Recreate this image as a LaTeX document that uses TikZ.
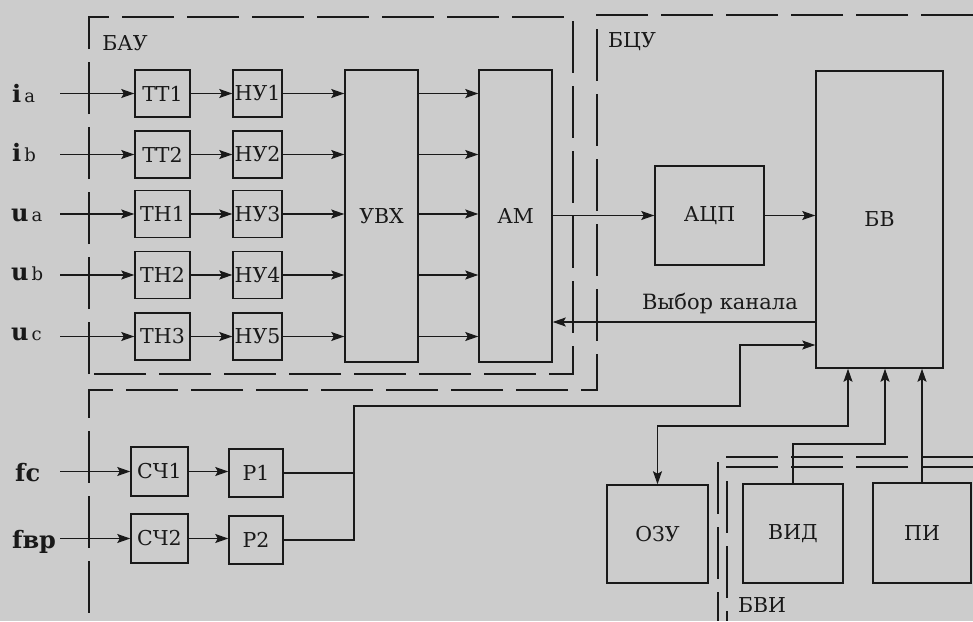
\documentclass[tikz,border=0pt]{standalone}
\usepackage{fontspec}
\setmainfont{DejaVu Serif}
\usetikzlibrary{arrows.meta}
\definecolor{bgc}{RGB}{204,204,204}
\definecolor{ink}{RGB}{25,25,25}
\tikzset{
  blk/.style={draw=ink, line width=1.5pt, inner sep=0pt, font=\fontsize{20.5}{24}\selectfont, text=ink},
  arr/.style={draw=ink, line width=1.2pt, -{Stealth[length=13pt,width=9pt,inset=2.5pt]}},
  arrb/.style={draw=ink, line width=1.2pt, {Stealth[length=13pt,width=9pt,inset=2.5pt]}-{Stealth[length=13pt,width=9pt,inset=2.5pt]}},
  ln/.style={draw=ink, line width=1.2pt},
  bnd/.style={draw=ink, line width=1.6pt, dash pattern=on 52pt off 13pt},
  lbl/.style={inner sep=0pt, text=ink, font=\fontsize{20.5}{24}\selectfont},
  inl/.style={inner sep=0pt, text=ink, anchor=base west, font=\bfseries\fontsize{24}{28}\selectfont},
}
\newcommand{\sbx}[1]{{\mdseries\fontsize{18}{20}\selectfont\,#1}}
\begin{document}
\begin{tikzpicture}[x=1pt,y=-1pt]
\fill[bgc] (0,0) rectangle (973,621);
\useasboundingbox (0,0) rectangle (973,621);

% boundaries
\draw[bnd] (89,374) -- (89,17) -- (573,17) -- (573,374) -- cycle;
\draw[bnd] (973,15) -- (597,15) -- (597,390) -- (89,390) -- (89,621);
\draw[bnd] (973,457) -- (718,457) -- (718,621);
\draw[bnd] (973,467) -- (727,467) -- (727,621);

\node[lbl] (lbau) at (125,43) {БАУ};
\node[lbl] (lbcu) at (632,42) {БЦУ};
\node[lbl] (lbvi) at (762,605) {БВИ};

% row blocks
\foreach \n/\t/\h/\y in {1/ТТ1/НУ1/93.5, 2/ТТ2/НУ2/154.5, 3/ТН1/НУ3/214, 4/ТН2/НУ4/275, 5/ТН3/НУ5/336.5}{
  \node[blk, minimum width=55pt, minimum height=47pt] (T\n) at (162.5,\y) {\t};
  \node[blk, minimum width=49pt, minimum height=47pt] (H\n) at (257.5,\y) {\h};
}
\node[blk, minimum width=73pt, minimum height=292pt] (UVX) at (381.5,216) {УВХ};
\node[blk, minimum width=73pt, minimum height=292pt] (AM) at (515.5,216) {АМ};
\node[blk, minimum width=109pt, minimum height=99pt] (ADC) at (709.5,215.5) {АЦП};
\node[blk, minimum width=127pt, minimum height=297pt] (BV) at (879.5,219.5) {БВ};

\node[blk, minimum width=57pt, minimum height=49pt] (C1) at (159.5,471.5) {СЧ1};
\node[blk, minimum width=57pt, minimum height=49pt] (C2) at (159.5,538.5) {СЧ2};
\node[blk, minimum width=54pt, minimum height=48pt] (P1) at (256,473) {Р1};
\node[blk, minimum width=54pt, minimum height=48pt] (P2) at (256,540) {Р2};

\node[blk, minimum width=101pt, minimum height=98pt] (OZU) at (657.5,534) {ОЗУ};
\node[blk, minimum width=100pt, minimum height=99pt] (VID) at (793,533.5) {ВИД};
\node[blk, minimum width=98pt, minimum height=100pt] (PI) at (922,533) {ПИ};

% input labels
\node[inl] (lia) at (12,102) {i\sbx{a}};
\node[inl] (lib) at (12,161) {i\sbx{b}};
\node[inl] (lua) at (11,221) {u\sbx{a}};
\node[inl] (lub) at (11,280) {u\sbx{b}};
\node[inl] (luc) at (11,340) {u\sbx{c}};
\node[inl] (lfc) at (15,481) {fc};
\node[inl] (lfv) at (12,548) {fвр};

% input lines
\foreach \n/\y in {1/93.5,2/154.5,3/214,4/275,5/336.5}{
  \coordinate (in\n) at (60,\y);
  \draw[arr] (in\n) -- (T\n.west);
  \draw[arr] (T\n.east) -- (H\n.west);
  \draw[arr] (H\n.east) -- (H\n.east -| UVX.west);
  \draw[arr] (H\n.east -| UVX.east) -- (H\n.east -| AM.west);
}
\coordinate (inf1) at (60,471.5);
\coordinate (inf2) at (60,538.5);
\draw[arr] (inf1) -- (C1.west);
\draw[arr] (inf2) -- (C2.west);
\draw[arr] (C1.east) -- (C1.east -| P1.west);
\draw[arr] (C2.east) -- (C2.east -| P2.west);

% AM -> ADC -> BV
\draw[arr] (AM.east |- ADC.west) -- (ADC.west);
\draw[arr] (ADC.east) -- (ADC.east -| BV.west);

% channel select
\coordinate (sel) at (816,322);
\node[lbl, font=\fontsize{21}{24}\selectfont] (lsel) at (720,304) {Выбор канала};
\draw[arr] (BV.west |- sel) -- (AM.east |- sel);

% P1/P2 -> BV
\coordinate (j1) at (354,406);
\coordinate (j2) at (740,345);
\draw[ln] (P1.east) -- (P1.east -| j1);
\draw[arr] (P2.east) -| (j1) -| (j2) -- (j2 -| BV.west);

% bottom connections
\coordinate (b1) at (848,426);
\coordinate (b2) at (885,444);
\draw[arrb] (OZU.north) |- (b1) -- (b1 |- BV.south);
\draw[arr] (VID.north) |- (b2) -- (b2 |- BV.south);
\draw[arr] (PI.north) -- (PI.north |- BV.south);
\end{tikzpicture}
\end{document}
